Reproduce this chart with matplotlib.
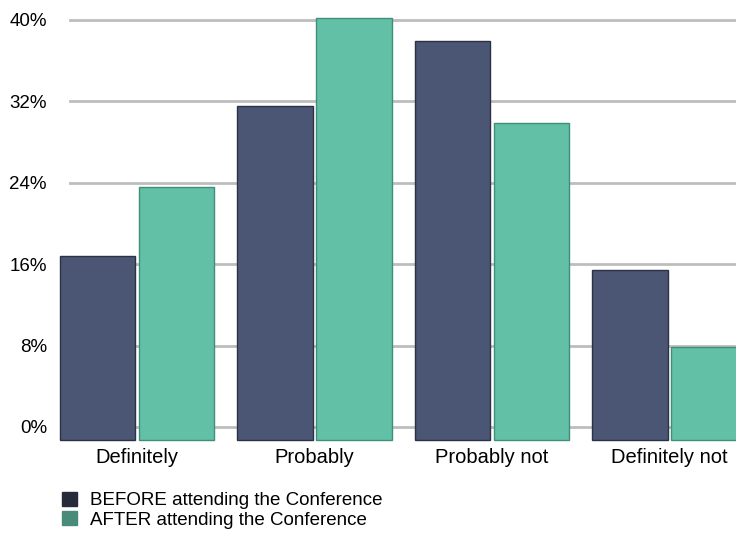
import numpy as np
import matplotlib
matplotlib.use("Agg")
import matplotlib.pyplot as plt
from matplotlib.patches import Patch

categories = ["Definitely", "Probably", "Probably not", "Definitely not"]
before = [16.8, 31.5, 37.9, 15.4]
after = [23.6, 40.2, 29.9, 7.9]
yticks = [0, 8, 16, 24, 32, 40]
series_names = ["BEFORE attending the Conference", "AFTER attending the Conference"]

plt.rcParams['font.family'] = ['Liberation Sans', 'DejaVu Sans']

fig = plt.figure(figsize=(7.36, 5.35), dpi=100)
# axes spans px x 56..736, y 0..440
ax = fig.add_axes([56 / 736, 1 - 440 / 535, 680 / 736, 440 / 535])

x = np.arange(len(categories))
w = 0.424
off = 0.222
base = 1.28  # bars sit a little below the 0% line

for y in yticks:
    ax.axhline(y, xmin=14 / 680, xmax=1, color="#bdbdbd", lw=2, zorder=1)

ax.bar(x - off, np.array(before) + base, w, bottom=-base, color="#4b5675",
       edgecolor="#2c3245", lw=1, zorder=3, clip_on=False)
ax.bar(x + off, np.array(after) + base, w, bottom=-base, color="#62c0a6",
       edgecolor="#3f8e7a", lw=1, zorder=3, clip_on=False)

ax.set_xlim(-(137 - 56) / 177.5, (736 - 137) / 177.5)
ax.set_ylim(-base, 40 + 20 / 10.175)
ax.set_yticks(yticks)
ax.set_yticklabels([f"{v}%" for v in yticks], fontsize=13.5)
ax.set_xticks(x)
ax.set_xticklabels(categories, fontsize=14.5)
ax.tick_params(length=0)
ax.tick_params(axis="y", pad=6.5)
ax.tick_params(axis="x", pad=5.5)
for s in ax.spines.values():
    s.set_visible(False)

handles = [Patch(color="#262b3b"), Patch(color="#4a8a78")]
fig.legend(handles, series_names, loc="upper left",
           bbox_to_anchor=(54 / 736, 1 - 484 / 535), frameon=False,
           fontsize=13.5, handlelength=0.8, handleheight=0.8,
           handletextpad=0.7, labelspacing=0.1, borderaxespad=0)

plt.savefig("out.png", dpi=100)
